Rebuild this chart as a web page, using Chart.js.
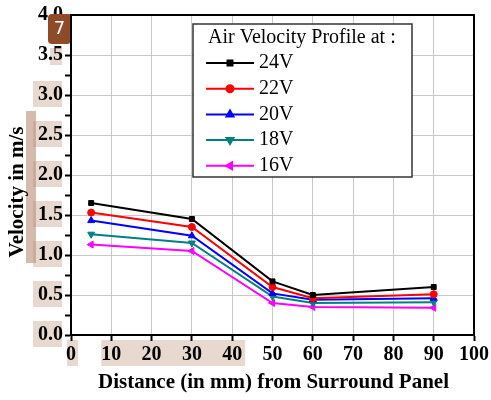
<!DOCTYPE html>
<html>
<head>
<meta charset="utf-8">
<script src="https://cdn.jsdelivr.net/npm/chart.js@4"></script>
<style>
  html, body { margin: 0; padding: 0; background: #fff; }
</style>
</head>
<body>
<canvas id="velChart" width="491" height="400"></canvas>
<script>
// distance from surround panel (mm)
const distances = [5, 30, 50, 60, 90];

// air velocity (m/s) per supply voltage
const v24 = [1.65, 1.45, 0.67, 0.50, 0.60];
const v22 = [1.53, 1.35, 0.60, 0.46, 0.51];
const v20 = [1.43, 1.24, 0.52, 0.44, 0.46];
const v18 = [1.26, 1.15, 0.48, 0.40, 0.41];
const v16 = [1.13, 1.05, 0.40, 0.35, 0.34];

const seriesLabels = ["24V", "22V", "20V", "18V", "16V"];
const legendTitle = "Air Velocity Profile at :";
const xTitle = "Distance (in mm) from Surround Panel";
const yTitle = "Velocity in m/s";

// tick labels that carry a tan highlight in the reference
const yMarked = [3.0, 2.5, 2.0, 1.5, 1.0, 0.5, 0.0];
const xMarked = [0];
const xMarkedSpan = [10, 40];

const serif = "'Liberation Serif', 'Times New Roman', serif";

function toPoints(vals) {
  return vals.map((v, i) => ({ x: distances[i], y: v }));
}

const styles = [
  { color: "#000000", point: "rect", rot: 0, r: 3.5 },
  { color: "#ff0000", point: "circle", rot: 0, r: 3.5 },
  { color: "#0000ff", point: "triangle", rot: 0, r: 4 },
  { color: "#008080", point: "triangle", rot: 180, r: 4 },
  { color: "#ff00ff", point: "triangle", rot: -90, r: 4 }
];

const datasets = [v24, v22, v20, v18, v16].map((vals, i) => ({
  label: seriesLabels[i],
  data: toPoints(vals),
  borderColor: styles[i].color,
  backgroundColor: styles[i].color,
  borderWidth: 2,
  pointStyle: styles[i].point,
  pointRotation: styles[i].rot,
  pointRadius: styles[i].r,
  pointBorderWidth: 1,
  tension: 0
}));

// frame on top and right, like the origin plot, plus axis titles
const frame = {
  id: "frame",
  afterDraw(chart) {
    const { ctx, chartArea: a } = chart;
    ctx.save();
    ctx.strokeStyle = "#000";
    ctx.lineWidth = 2;
    ctx.strokeRect(a.left, a.top, a.right - a.left, a.bottom - a.top);

    ctx.fillStyle = "#000";
    ctx.font = "bold 21px " + serif;
    ctx.textAlign = "center";
    ctx.textBaseline = "middle";
    ctx.fillText(xTitle, (a.left + a.right) / 2 + 1, a.bottom + 48);

    ctx.translate(18, (a.top + a.bottom) / 2 + 17);
    ctx.rotate(-Math.PI / 2);
    ctx.fillText(yTitle, 0, 0);
    ctx.restore();
  }
};

// tan highlights behind some tick labels
const marks = {
  id: "marks",
  beforeDraw(chart) {
    const { ctx } = chart;
    const ys = chart.scales.y, xs = chart.scales.x;
    ctx.save();
    ctx.fillStyle = "#e7d9cf";
    yMarked.forEach(v => {
      const p = ys.getPixelForValue(v);
      ctx.fillRect(ys.right - 38, p - 14, 29, 26);
    });
    const p35 = ys.getPixelForValue(3.5);
    ctx.fillRect(ys.right - 21, p35 - 7, 12, 17);
    xMarked.forEach(v => {
      const p = xs.getPixelForValue(v);
      ctx.fillRect(p - 4, xs.top + 5, 11, 26);
    });
    ctx.fillRect(xs.getPixelForValue(xMarkedSpan[0]) - 10, xs.top + 5,
      xs.getPixelForValue(xMarkedSpan[1]) - xs.getPixelForValue(xMarkedSpan[0]) + 23, 26);
    ctx.restore();
  },
  afterDraw(chart) {
    const { ctx } = chart;
    const ys = chart.scales.y;
    ctx.save();
    // darker strip along the axis title
    ctx.fillStyle = "rgba(185, 140, 120, 0.6)";
    const t = ys.getPixelForValue(2.8), b = ys.getPixelForValue(0.9);
    ctx.fillRect(ys.right - 45, t, 10, b - t);
    // numbered badge
    const bx = ys.right - 23, by = ys.top - 1;
    ctx.fillStyle = "#8f4a28";
    ctx.beginPath();
    ctx.roundRect(bx, by, 23, 30, 4);
    ctx.fill();
    ctx.fillStyle = "#fff";
    ctx.font = "18px 'DejaVu Sans', sans-serif";
    ctx.textAlign = "center";
    ctx.textBaseline = "middle";
    ctx.fillText("7", bx + 11.5, by + 15);
    ctx.restore();
  }
};

// boxed legend inside the plot area
const boxLegend = {
  id: "boxLegend",
  afterDatasetsDraw(chart) {
    const { ctx, chartArea: a } = chart;
    const x0 = a.left + 122, y0 = a.top + 9, w = 219, h = 153;
    ctx.save();
    ctx.fillStyle = "#fff";
    ctx.fillRect(x0, y0, w, h);
    ctx.strokeStyle = "#333";
    ctx.lineWidth = 1.5;
    ctx.strokeRect(x0, y0, w, h);
    ctx.fillStyle = "#000";
    ctx.font = "20px " + serif;
    ctx.textBaseline = "middle";
    ctx.fillText(legendTitle, x0 + 15, y0 + 14);
    chart.data.datasets.forEach((ds, i) => {
      const y = y0 + 39 + i * 25.7;
      ctx.strokeStyle = ds.borderColor;
      ctx.fillStyle = ds.borderColor;
      ctx.lineWidth = 2;
      ctx.beginPath();
      ctx.moveTo(x0 + 13, y);
      ctx.lineTo(x0 + 61, y);
      ctx.stroke();
      Chart.helpers.drawPoint(ctx, {
        pointStyle: ds.pointStyle, radius: ds.pointRadius,
        rotation: ds.pointRotation, borderWidth: 1
      }, x0 + 37, y);
      ctx.fillStyle = "#000";
      ctx.fillText(ds.label, x0 + 66, y);
    });
    ctx.restore();
  }
};

new Chart(document.getElementById("velChart").getContext("2d"), {
  type: "line",
  data: { datasets },
  plugins: [marks, frame, boxLegend],
  options: {
    responsive: false,
    animation: false,
    layout: { padding: { top: 15, right: 17, left: 0, bottom: 0 } },
    plugins: { legend: { display: false }, tooltip: { enabled: false } },
    scales: {
      x: {
        type: "linear",
        min: 0,
        max: 100,
        afterFit: s => { s.height = 65; },
        ticks: {
          stepSize: 10,
          padding: 2,
          color: "#000",
          font: { family: serif, size: 20, weight: "bold" }
        },
        grid: { color: "#c8c8c8", lineWidth: 1, tickColor: "#000", tickLength: 6, tickWidth: 2 },
        border: { color: "#000", width: 2 }
      },
      y: {
        min: 0,
        max: 4,
        afterFit: s => { s.width = 71; },
        ticks: {
          stepSize: 0.25,
          autoSkip: false,
          padding: 2,
          color: "#000",
          font: { family: serif, size: 20, weight: "bold" },
          callback: v => (Math.abs(v * 2 - Math.round(v * 2)) < 1e-6 ? v.toFixed(1) : "")
        },
        grid: {
          color: ctx => (ctx.tick && Math.abs(ctx.tick.value * 2 - Math.round(ctx.tick.value * 2)) < 1e-6 ? "#c8c8c8" : "rgba(0,0,0,0)"),
          lineWidth: 1,
          tickColor: "#000",
          tickLength: 6,
          tickWidth: 2
        },
        border: { color: "#000", width: 2 }
      }
    }
  }
});
</script>
</body>
</html>
